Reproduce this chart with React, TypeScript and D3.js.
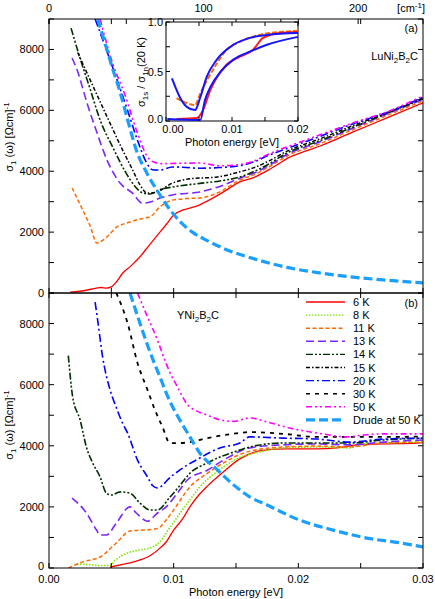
import React from "react";
import * as d3 from "d3";

type Pt = [number, number];

// ---------- Panel (a): LuNi2B2C, sigma1 [Ohm cm]^-1 vs photon energy [eV]
const lu6K: Pt[] = [[0.0017,30],[0.0030,90],[0.0038,160],[0.0042,180],[0.0046,160],[0.0050,200],[0.0054,360],[0.0059,650],[0.0066,900],[0.0073,1190],[0.0080,1550],[0.0087,1900],[0.0094,2250],[0.0100,2560],[0.0107,2720],[0.0113,2790],[0.0120,2880],[0.0127,3020],[0.0140,3320],[0.0153,3650],[0.0164,3790],[0.0176,4040],[0.0185,4260],[0.0191,4420],[0.0205,4650],[0.0217,4820],[0.0244,5290],[0.0271,5750],[0.0300,6250]];
const lu11K: Pt[] = [[0.00185,3450],[0.0027,2730],[0.0033,2200],[0.00385,1640],[0.0042,1700],[0.00465,1840],[0.00545,2170],[0.00626,2300],[0.0073,2430],[0.0081,2500],[0.0089,2830],[0.0099,3050],[0.0110,3100],[0.0121,3120],[0.0137,3320],[0.0153,3710],[0.0164,3880],[0.0176,4130],[0.0191,4500],[0.0217,4900],[0.0244,5370],[0.0271,5830],[0.0300,6310]];
const lu13K: Pt[] = [[0.00185,7720],[0.00225,7330],[0.00305,6240],[0.00385,5260],[0.00465,4370],[0.0057,3610],[0.0067,3280],[0.0075,2950],[0.0082,3000],[0.0089,3120],[0.0099,3220],[0.0121,3320],[0.0137,3500],[0.0153,3770],[0.0164,3930],[0.0176,4180],[0.0191,4550],[0.0217,4960],[0.0244,5420],[0.0271,5880],[0.0300,6360]];
const lu14K: Pt[] = [[0.00177,8700],[0.0025,7700],[0.0033,6700],[0.0041,5680],[0.0051,4800],[0.0061,4000],[0.0069,3500],[0.0075,3290],[0.0081,3250],[0.0089,3400],[0.0099,3480],[0.0121,3600],[0.0137,3680],[0.0153,3810],[0.0164,3980],[0.0176,4230],[0.0191,4600],[0.0217,5000],[0.0244,5450],[0.0271,5900],[0.0300,6380]];
const lu15K: Pt[] = [[0.0023,7900],[0.0033,7000],[0.0047,5750],[0.0059,4700],[0.0067,4050],[0.0073,3550],[0.0079,3280],[0.0085,3300],[0.0099,3610],[0.0113,3750],[0.0135,3810],[0.0153,3980],[0.0164,4110],[0.0176,4330],[0.0191,4660],[0.0217,5060],[0.0244,5500],[0.0271,5920],[0.0300,6400]];
const lu20K: Pt[] = [[0.0037,9000],[0.0049,7650],[0.0063,6000],[0.0072,4900],[0.0078,4300],[0.0083,4050],[0.0089,4040],[0.0099,4140],[0.0121,4100],[0.0137,4120],[0.0153,4180],[0.0164,4300],[0.0176,4520],[0.0191,4750],[0.0217,5140],[0.0244,5560],[0.0271,5930],[0.0300,6430]];
const lu50K: Pt[] = [[0.0041,9000],[0.0051,7550],[0.0061,6500],[0.0071,5250],[0.0079,4470],[0.0084,4300],[0.0090,4250],[0.0121,4270],[0.0137,4180],[0.0153,4220],[0.0164,4330],[0.0176,4560],[0.0191,4800],[0.0217,5190],[0.0244,5590],[0.0271,5950],[0.0300,6470]];
const luDrude: Pt[] = [[0.0039,9000],[0.0045,8200],[0.0050,7500],[0.0057,6600],[0.0063,5700],[0.0070,4700],[0.0079,3900],[0.0087,3350],[0.0095,2850],[0.0105,2350],[0.0115,2000],[0.0127,1720],[0.0145,1380],[0.0164,1130],[0.0191,840],[0.0217,660],[0.0244,520],[0.0271,420],[0.0300,330]];

// ---------- Panel (b): YNi2B2C
const y6K: Pt[] = [[0.0049,30],[0.0060,130],[0.0068,200],[0.0075,290],[0.0081,400],[0.0089,650],[0.0094,850],[0.0100,1240],[0.0107,1600],[0.0113,2000],[0.0120,2380],[0.0127,2680],[0.0140,3150],[0.0153,3570],[0.0169,3830],[0.0188,3900],[0.0215,3900],[0.0231,3930],[0.0247,4030],[0.0268,4060],[0.0295,4090],[0.0300,4100]];
const y8K: Pt[] = [[0.00225,130],[0.0033,110],[0.0041,80],[0.0049,80],[0.0053,250],[0.0063,490],[0.0073,590],[0.0083,690],[0.0089,850],[0.0094,1150],[0.0100,1500],[0.0107,1900],[0.0113,2230],[0.0121,2650],[0.0130,3000],[0.0140,3310],[0.0151,3580],[0.0169,3800],[0.0188,3930],[0.0215,3960],[0.0241,3930],[0.0252,4060],[0.0268,4090],[0.0300,4120]];
const y11K: Pt[] = [[0.00155,0],[0.0027,200],[0.0041,360],[0.0054,820],[0.0065,1210],[0.0076,1240],[0.0087,1290],[0.0094,1570],[0.0100,1900],[0.0113,2650],[0.0127,3100],[0.0140,3440],[0.0159,3800],[0.0188,3960],[0.0215,3990],[0.0241,3960],[0.0268,4090],[0.0300,4120]];
const y13K: Pt[] = [[0.00185,2290],[0.0030,1800],[0.0038,1250],[0.0041,1080],[0.0046,1080],[0.0054,1470],[0.0065,2000],[0.0070,1800],[0.0079,1530],[0.0087,1800],[0.0094,2000],[0.0103,2450],[0.0111,2880],[0.0127,3200],[0.0140,3530],[0.0161,3930],[0.0188,4030],[0.0215,4060],[0.0241,4030],[0.0268,4120],[0.0300,4190]];
const y14K: Pt[] = [[0.00155,6950],[0.0019,5600],[0.0025,4840],[0.0030,3960],[0.0035,3440],[0.0041,2980],[0.0046,2450],[0.0050,2390],[0.0057,2490],[0.0065,2450],[0.0073,2120],[0.0081,1900],[0.0087,1900],[0.0097,2320],[0.0105,2700],[0.0113,3100],[0.0127,3440],[0.0153,3860],[0.0161,3960],[0.0188,4090],[0.0215,4090],[0.0241,4090],[0.0268,4190],[0.0300,4250]];
const y20K: Pt[] = [[0.0037,8700],[0.0039,8120],[0.0043,6910],[0.0049,5830],[0.0054,5250],[0.0059,4740],[0.0063,4420],[0.0071,3530],[0.0079,2980],[0.0083,2700],[0.0087,2620],[0.0091,2700],[0.0095,2880],[0.0105,3210],[0.0121,3600],[0.0137,3930],[0.0153,4090],[0.0161,4290],[0.0188,4250],[0.0215,4220],[0.0241,4120],[0.0268,4220],[0.0300,4250]];
const y30K: Pt[] = [[0.0054,9000],[0.0063,8020],[0.0071,6710],[0.0079,5830],[0.0085,5170],[0.0091,4620],[0.0097,4090],[0.0105,4090],[0.0113,4120],[0.0127,4250],[0.0153,4420],[0.0161,4450],[0.0188,4390],[0.0215,4290],[0.0241,4290],[0.0268,4290],[0.0300,4300]];
const y50K: Pt[] = [[0.0071,9000],[0.0079,8220],[0.0087,7460],[0.0092,6900],[0.0097,6400],[0.0103,5930],[0.0111,5350],[0.0118,5150],[0.0127,5000],[0.0137,4850],[0.0148,4800],[0.0161,4910],[0.0175,4780],[0.0193,4580],[0.0215,4420],[0.0239,4290],[0.0252,4350],[0.0268,4390],[0.0300,4390]];
const yDrude: Pt[] = [[0.0065,9000],[0.0073,8000],[0.0081,7070],[0.0089,6250],[0.0097,5450],[0.0105,4840],[0.0113,4290],[0.0121,3760],[0.0135,3210],[0.0148,2720],[0.0161,2330],[0.0175,2060],[0.0201,1570],[0.0228,1240],[0.0255,980],[0.0282,820],[0.0300,690]];

// ---------- Inset: sigma1s / sigma1n(20 K)
const inBlueA: Pt[] = [[0.0009,0.43],[0.0015,0.33],[0.0021,0.24],[0.0032,0.14],[0.0044,0.11],[0.0052,0.24],[0.0062,0.45],[0.0077,0.62],[0.0102,0.77],[0.0127,0.84],[0.0153,0.87],[0.0200,0.89]];
const inOrange: Pt[] = [[0.0016,0.23],[0.0032,0.18],[0.0044,0.16],[0.0052,0.28],[0.0062,0.41],[0.0077,0.58],[0.0092,0.72],[0.0112,0.80],[0.0142,0.87],[0.0173,0.90],[0.0200,0.91]];
const inRed: Pt[] = [[0.0016,0.02],[0.0047,0.03],[0.0056,0.11],[0.0067,0.31],[0.0077,0.44],[0.0092,0.57],[0.0112,0.65],[0.0132,0.72],[0.0147,0.84],[0.0173,0.89],[0.0200,0.90]];
const inBlueB: Pt[] = [[0.0002,0.02],[0.0052,0.01],[0.0059,0.21],[0.0067,0.34],[0.0082,0.49],[0.0102,0.62],[0.0127,0.70],[0.0153,0.77],[0.0200,0.85]];

// ---------- labels / ticks
const legendLabels = ["6 K","8 K","11 K","13 K","14 K","15 K","20 K","30 K","50 K","Drude at 50 K"];
const yTickLabels = [0, 2000, 4000, 6000, 8000];
const xTickLabels = [0, 0.01, 0.02, 0.03];
const cmTickLabels = [0, 100, 200];
const insetXLabels = [0, 0.01, 0.02];
const insetYLabels = [0, 0.5, 1];

const styles: Record<string, { c: string; d: string; w: number }> = {
  "6 K": { c: "#ff0000", d: "none", w: 1.3 },
  "8 K": { c: "#7ee600", d: "1.5,1.5", w: 1.6 },
  "11 K": { c: "#ff6a00", d: "4,2.5", w: 1.5 },
  "13 K": { c: "#7b26ff", d: "8,4", w: 1.6 },
  "14 K": { c: "#003000", d: "7,2,2,2,2,2", w: 1.6 },
  "15 K": { c: "#000000", d: "4,2,1.5,2", w: 1.5 },
  "20 K": { c: "#0000ff", d: "8,3,2,3", w: 1.6 },
  "30 K": { c: "#000000", d: "4,5", w: 1.8 },
  "50 K": { c: "#ff00ff", d: "6,3,2,3,2,3", w: 1.6 },
  "Drude at 50 K": { c: "#1a9fff", d: "9,4", w: 3.2 },
};

const seriesA: [string, Pt[]][] = [
  ["6 K", lu6K], ["11 K", lu11K], ["13 K", lu13K], ["14 K", lu14K], ["15 K", lu15K],
  ["20 K", lu20K], ["50 K", lu50K], ["Drude at 50 K", luDrude],
];
const seriesB: [string, Pt[]][] = [
  ["6 K", y6K], ["8 K", y8K], ["11 K", y11K], ["13 K", y13K], ["14 K", y14K],
  ["20 K", y20K], ["30 K", y30K], ["50 K", y50K], ["Drude at 50 K", yDrude],
];

const FONT = "'Liberation Sans', Arial, sans-serif";

export default function App() {
  const L = 49, R = 423, aT = 19, aB = 293, bT = 293, bB = 568;
  const x = d3.scaleLinear().domain([0, 0.03]).range([L, R]);
  const xcm = d3.scaleLinear().domain([0, 0.03 * 8065.54]).range([L, R]);
  const ya = d3.scaleLinear().domain([0, 9000]).range([aB, aT]);
  const yb = d3.scaleLinear().domain([0, 9000]).range([bB, bT]);
  const ix = d3.scaleLinear().domain([0, 0.02]).range([166, 298]);
  const iy = d3.scaleLinear().domain([0, 1]).range([121, 22]);

  const mk = (ys: d3.ScaleLinear<number, number>) =>
    d3.line<Pt>().x((d) => x(d[0])).y((d) => ys(d[1])).curve(d3.curveMonotoneX);
  const lineA = mk(ya), lineB = mk(yb);
  const lineI = d3.line<Pt>().x((d) => ix(d[0])).y((d) => iy(d[1])).curve(d3.curveMonotoneX);

  const xt = d3.range(0, 0.03001, 0.005);
  const yt = d3.range(0, 9001, 1000);
  const cmt = d3.range(0, 241, 50);
  const tk = 5;

  const frame = (top: number, bot: number, ys: d3.ScaleLinear<number, number>, key: string) => (
    <g key={key}>
      <rect x={L} y={top} width={R - L} height={bot - top} fill="none" stroke="#000" strokeWidth={1} />
      {xt.map((v, i) => (
        <g key={"x" + i}>
          <line x1={x(v)} x2={x(v)} y1={bot} y2={bot - tk} stroke="#000" />
          <line x1={x(v)} x2={x(v)} y1={top} y2={top + tk} stroke="#000" />
        </g>
      ))}
      {yt.map((v, i) => (
        <g key={"y" + i}>
          <line x1={L} x2={L + tk} y1={ys(v)} y2={ys(v)} stroke="#000" />
          <line x1={R} x2={R - tk} y1={ys(v)} y2={ys(v)} stroke="#000" />
        </g>
      ))}
      {yTickLabels.map((v) => (
        <text key={"l" + v} x={44} y={ys(v) + (v === 0 && key === "fb" ? 2 : 4)} textAnchor="end" fontSize={11}>{v}</text>
      ))}
    </g>
  );

  const ylabel = (cy: number, key: string) => (
    <text key={key} transform={`translate(13,${cy}) rotate(-90)`} textAnchor="middle" fontSize={11}>
      σ<tspan fontSize={8} dy={3}>1</tspan>
      <tspan dy={-3}> (ω) [Ωcm]</tspan>
      <tspan fontSize={8} dy={-4}>-1</tspan>
    </text>
  );

  return (
    <svg width={435} height={599} style={{ position: "absolute", left: 0, top: 0, fontFamily: FONT }}>
      <rect width={435} height={599} fill="#fff" />
      <defs>
        <clipPath id="ca"><rect x={L} y={aT} width={R - L} height={aB - aT} /></clipPath>
        <clipPath id="cb"><rect x={L} y={bT} width={R - L} height={bB - bT} /></clipPath>
      </defs>

      <g clipPath="url(#ca)">
        {seriesA.map(([k, d]) => (
          <path key={k} d={lineA(d) || ""} fill="none" stroke={styles[k].c}
            strokeDasharray={styles[k].d} strokeWidth={styles[k].w} />
        ))}
      </g>
      <g clipPath="url(#cb)">
        {seriesB.map(([k, d]) => (
          <path key={k} d={lineB(d) || ""} fill="none" stroke={styles[k].c}
            strokeDasharray={styles[k].d} strokeWidth={styles[k].w} />
        ))}
      </g>

      {frame(aT, aB, ya, "fa")}
      {frame(bT, bB, yb, "fb")}

      {cmt.map((v) => (
        <line key={"cm" + v} x1={xcm(v)} x2={xcm(v)} y1={aT} y2={aT + tk} stroke="#000" />
      ))}
      {cmTickLabels.map((v) => (
        <text key={"cml" + v} x={xcm(v)} y={12} textAnchor="middle" fontSize={11}>{v}</text>
      ))}
      <text x={425} y={12} textAnchor="end" fontSize={11}>
        [cm<tspan fontSize={8} dy={-4}>-1</tspan><tspan dy={4}>]</tspan>
      </text>

      {xTickLabels.map((v) => (
        <text key={"xl" + v} x={x(v)} y={583} textAnchor="middle" fontSize={11}>{v.toFixed(2)}</text>
      ))}
      <text x={236} y={596} textAnchor="middle" fontSize={11}>Photon energy [eV]</text>

      {ylabel(137, "yla")}
      {ylabel(425, "ylb")}

      <text x={418} y={32} textAnchor="end" fontSize={11}>(a)</text>
      <text x={418} y={60} textAnchor="end" fontSize={11}>
        LuNi<tspan fontSize={8} dy={3}>2</tspan><tspan dy={-3}>B</tspan><tspan fontSize={8} dy={3}>2</tspan><tspan dy={-3}>C</tspan>
      </text>
      <text x={418} y={307} textAnchor="end" fontSize={11}>(b)</text>
      <text x={177} y={319} fontSize={11}>
        YNi<tspan fontSize={8} dy={3}>2</tspan><tspan dy={-3}>B</tspan><tspan fontSize={8} dy={3}>2</tspan><tspan dy={-3}>C</tspan>
      </text>

      {legendLabels.map((k, i) => {
        const yy = 302 + i * 13.1;
        const s = styles[k];
        return (
          <g key={"lg" + k}>
            <line x1={306} x2={345} y1={yy} y2={yy} stroke={s.c} strokeDasharray={s.d}
              strokeWidth={k === "Drude at 50 K" ? 3.2 : 1.4} />
            <text x={353} y={yy + 4} fontSize={11}>{k}</text>
          </g>
        );
      })}

      {/* inset */}
      <rect x={166} y={22} width={132} height={99} fill="#fff" stroke="#000" strokeWidth={1} />
      <g>
        <path d={lineI(inOrange) || ""} fill="none" stroke="#ff6a00" strokeWidth={2} strokeDasharray="5,2" />
        <path d={lineI(inRed) || ""} fill="none" stroke="#ff1a1a" strokeWidth={2} />
        <path d={lineI(inBlueA) || ""} fill="none" stroke="#1414ff" strokeWidth={2} />
        <path d={lineI(inBlueB) || ""} fill="none" stroke="#1414ff" strokeWidth={2} />
      </g>
      {d3.range(0, 0.02001, 0.005).map((v, i) => (
        <g key={"ixt" + i}>
          <line x1={ix(v)} x2={ix(v)} y1={121} y2={117} stroke="#000" />
          <line x1={ix(v)} x2={ix(v)} y1={22} y2={26} stroke="#000" />
        </g>
      ))}
      {d3.range(0, 1.001, 0.25).map((v, i) => (
        <g key={"iyt" + i}>
          <line x1={166} x2={170} y1={iy(v)} y2={iy(v)} stroke="#000" />
          <line x1={298} x2={294} y1={iy(v)} y2={iy(v)} stroke="#000" />
        </g>
      ))}
      {insetYLabels.map((v) => (
        <text key={"iyl" + v} x={163} y={iy(v) + (v === 0 ? 2 : 4)} textAnchor="end" fontSize={11}>{v.toFixed(1)}</text>
      ))}
      {insetXLabels.map((v) => (
        <text key={"ixl" + v} x={ix(v) + (v === 0 ? 7 : 0)} y={133} textAnchor="middle" fontSize={11}>{v.toFixed(2)}</text>
      ))}
      <text x={232} y={146} textAnchor="middle" fontSize={11}>Photon energy [eV]</text>
      <text transform="translate(145,72) rotate(-90)" textAnchor="middle" fontSize={11}>
        σ<tspan fontSize={8} dy={3}>1s</tspan><tspan dy={-3}> / σ</tspan><tspan fontSize={8} dy={3}>1n</tspan><tspan dy={-3}>(20 K)</tspan>
      </text>
    </svg>
  );
}
